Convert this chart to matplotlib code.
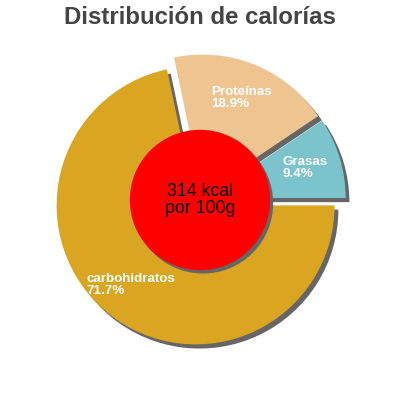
import numpy as np
import matplotlib
matplotlib.use("Agg")
import matplotlib.pyplot as plt
from matplotlib.patches import Wedge, Circle

# Data
labels = ["Grasas", "Proteínas", "carbohidratos"]
shares = [9.4, 18.9, 71.7]
colors = ["#7bc4cd", "#eec591", "#daa520"]
kcal_text = "314 kcal\npor 100g"
title = "Distribución de calorías"

plt.rcParams["font.family"] = ["Liberation Sans", "DejaVu Sans"]


def main():
    fig = plt.figure(figsize=(4, 4), dpi=100)
    ax = fig.add_axes([0, 0, 1, 1])
    lim = 200 / 139

    explode = [0.05] * len(shares)
    texts = [f"{l}\n{s}%" for l, s in zip(labels, shares)]
    wedges, label_texts = ax.pie(shares, colors=colors, explode=explode, labels=texts,
                                 startangle=0, counterclock=True, labeldistance=0.74,
                                 radius=1, center=(0, 0), frame=True,
                                 wedgeprops=dict(linewidth=0, zorder=3),
                                 textprops=dict(color="white", fontsize=9.6, fontweight="bold"))
    ax.set_xlim(-lim, lim)
    ax.set_ylim(-lim, lim)
    ax.set_aspect("equal")
    ax.axis("off")
    for t in label_texts:
        t.set_ha("center")
        t.set_va("center")
        t.set_multialignment("left")
        t.set_linespacing(1.0)
        t.set_zorder(5)

    # shadow to the lower right
    ox, oy = 0.027, -0.03
    for w in wedges:
        cx, cy = w.center
        sh = Wedge((cx + ox, cy + oy), w.r, w.theta1, w.theta2,
                   facecolor="#666666", linewidth=0, zorder=2)
        ax.add_patch(sh)

    ax.add_patch(Circle((ox * 0.8, oy * 0.8), 0.505, facecolor="#666666", linewidth=0, zorder=3.5))
    ax.add_patch(Circle((0, 0), 0.505, facecolor="#ff0000", linewidth=0, zorder=4))
    ax.text(0, 0, kcal_text, ha="center", va="center", fontsize=12.8, color="black", zorder=6,
            linespacing=1.0)

    fig.text(0.5, 0.985, title, ha="center", va="top", fontsize=17.3, fontweight="bold",
             color="#444444")
    fig.savefig("out.png", dpi=100, facecolor="white")


if __name__ == "__main__":
    main()
